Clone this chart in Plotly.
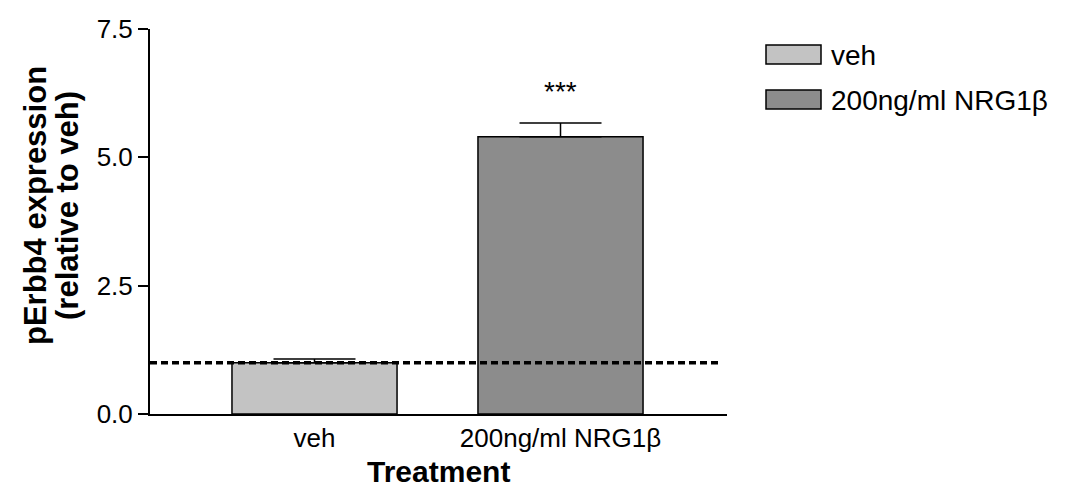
import plotly.graph_objects as go

categories = ["veh", "200ng/ml NRG1β"]
means = [1.0, 5.40]
sem = [0.07, 0.27]
colors = ["#c3c3c3", "#8c8c8c"]
significance = ["", "***"]
reference_level = 1.0
y_ticks = [0.0, 2.5, 5.0, 7.5]

FONT = "Liberation Sans, Arial, sans-serif"

# plot area geometry (page pixels) and browser body offset
OFF = 8
PL, PR, PT, PB = 150, 727, 29, 414
W, H = 1068, 490
PW, PH = PR - PL, PB - PT


def px(x):
    return (x - PL) / PW


def py(y):
    return (PB - y) / PH


fig = go.Figure()
fig.add_trace(go.Bar(
    x=categories, y=means,
    marker=dict(color=colors, line=dict(color="black", width=1.5)),
    width=0.671,
    error_y=dict(type="data", array=sem, arrayminus=[0, 0], symmetric=False,
                 color="black", thickness=1.5, width=41),
    showlegend=False,
))

# reference line at veh level
fig.add_shape(type="line", xref="paper", x0=0, x1=px(722), yref="y",
              y0=reference_level, y1=reference_level,
              line=dict(color="black", width=3.5, dash="7px,4px"), layer="above")

# significance stars
for c, m, s, t in zip(categories, means, sem, significance):
    if t:
        fig.add_annotation(x=c, y=m + s, text=t, showarrow=False, yshift=31,
                           font=dict(family=FONT, size=28, color="black"))

# manual legend
leg_x0, leg_x1 = 766, 821
leg_rows = [(45, 64), (90, 109)]
for (top, bot), name, col in zip(leg_rows, categories, colors):
    fig.add_shape(type="rect", xref="paper", yref="paper",
                  x0=px(leg_x0), x1=px(leg_x1), y0=py(bot), y1=py(top),
                  fillcolor=col, line=dict(color="black", width=1.5))
    fig.add_annotation(xref="paper", yref="paper",
                       x=px(829), y=py((top + bot) / 2 + 1),
                       xanchor="left", yanchor="middle", text=name, showarrow=False,
                       font=dict(family=FONT, size=28, color="black"))

# y title (two lines, placed separately for tight line spacing)
for line_text, cx in [("pErbb4 expression", 35), ("(relative to veh)", 67)]:
    fig.add_annotation(xref="paper", yref="paper", x=px(cx), y=py(206),
                       text=f"<b>{line_text}</b>", textangle=-90,
                       showarrow=False, xanchor="center", yanchor="middle",
                       font=dict(family=FONT, size=31, color="black"))

# x title
fig.add_annotation(xref="paper", yref="paper", x=0.5, y=py(471),
                   text="<b>Treatment</b>", showarrow=False,
                   xanchor="center", yanchor="middle",
                   font=dict(family=FONT, size=30, color="black"))

fig.update_layout(
    width=W, height=H,
    margin=dict(l=PL - OFF, r=W - PR + OFF, t=PT - OFF, b=H - PB + OFF, autoexpand=False),
    plot_bgcolor="white", paper_bgcolor="white",
    font=dict(family=FONT, size=26, color="black"),
    xaxis=dict(range=[-0.6687, 1.6768], showline=True, linecolor="black", linewidth=2,
               ticks="", showgrid=False, zeroline=False,
               tickfont=dict(family=FONT, size=26)),
    yaxis=dict(range=[0, 7.5], tickvals=y_ticks, ticktext=[f"{v:.1f}" for v in y_ticks],
               showline=True, linecolor="black", linewidth=2, ticks="outside",
               ticklen=10, tickwidth=2, tickcolor="black", showgrid=False, zeroline=False,
               tickfont=dict(family=FONT, size=26)),
)

fig.write_html("out.html")
